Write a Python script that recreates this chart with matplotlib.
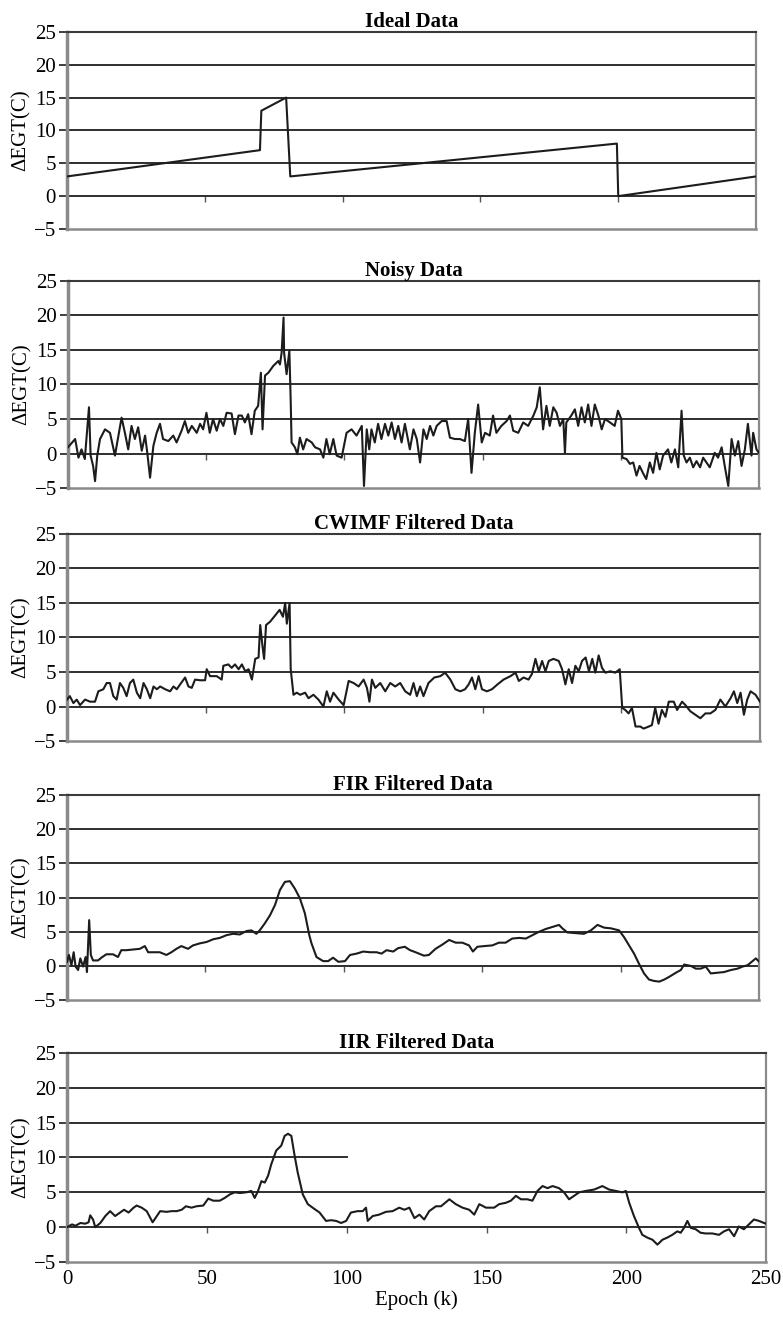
import matplotlib.pyplot as plt

plt.rcParams["font.family"] = ["Liberation Serif", "DejaVu Serif"]

Y_TICKS = [-5, 0, 5, 10, 15, 20, 25]
X_TICKS = [0, 50, 100, 150, 200, 250]

TITLES = ["Ideal Data", "Noisy Data", "CWIMF Filtered Data",
          "FIR Filtered Data", "IIR Filtered Data"]

# ideal data: ramps with two jumps
IDEAL_K = [0, 70, 70.5, 79.5, 81, 199.5, 200, 250]
IDEAL_V = [3, 7, 13, 15, 3, 8, 0, 3]

NOISY_K = [0, 2.6, 3.8, 4.9, 6.1, 7.6, 8.2, 9.1, 9.8, 10.6, 11.6, 13.4, 15.2, 17.0,
           19.4, 20.6, 21.8, 23.0, 24.2, 25.4, 26.7, 27.9, 28.7, 29.7, 30.9, 32.1,
           33.3, 34.4, 36.3, 38.1, 39.3, 41.1, 42.3, 43.5, 44.8, 46.6, 47.8, 48.9,
           50.1, 51.3, 52.5, 53.8, 55.0, 56.2, 57.4, 59.2, 60.4, 61.7, 62.9, 64.0,
           65.2, 66.4, 67.6, 68.8, 69.8, 70.4, 71.3, 72.5, 74.3, 76.1, 76.7, 77.3,
           78.0, 78.2, 79.1, 80.1, 80.6, 80.9, 82.1, 83.0, 83.9, 85.1, 86.3, 88.2,
           89.4, 91.2, 92.4, 93.5, 94.7, 96.0, 97.2, 99.0, 100.8, 102.6, 104.4,
           106.3, 107.1, 108.1, 109.0, 109.8, 111.0, 112.2, 113.4, 114.7, 115.9,
           117.1, 118.3, 119.5, 120.7, 121.9, 123.7, 125.0, 126.2, 127.4, 128.6,
           129.8, 131.0, 132.2, 133.4, 135.2, 137.0, 138.2, 140.0, 141.8, 143.6,
           144.8, 146.0, 147.2, 148.4, 149.7, 150.9, 152.6, 153.8, 155.0, 156.8,
           158.7, 159.9, 161.1, 162.9, 164.7, 166.5, 168.4, 169.6, 170.7, 171.9,
           173.1, 174.3, 175.6, 176.8, 178.0, 179.2, 179.8, 180.3, 182.1, 183.4,
           184.6, 185.8, 187.0, 188.2, 189.4, 190.6, 191.9, 193.1, 194.3, 196.1,
           197.8, 199.0, 200.2, 200.6, 202.1, 203.3, 204.5, 205.7, 206.8, 208.0,
           209.2, 210.5, 211.7, 212.9, 214.1, 215.3, 217.1, 218.3, 219.6, 220.8,
           222.0, 222.8, 223.8, 225.0, 226.2, 227.4, 228.7, 229.8, 231.0, 232.2,
           234.0, 235.2, 236.5, 237.7, 238.9, 240.1, 241.3, 242.5, 243.7, 244.9,
           246.0, 247.3, 247.9, 249.1, 250]
NOISY_V = [0.9, 2.1, -0.6, 0.6, -0.8, 6.7, -0.3, -1.8, -4.0, -0.3, 2.1, 3.5, 3.0, -0.3,
           5.2, 3.0, 0.6, 4.0, 2.1, 3.8, 0.4, 2.6, 0.1, -3.5, 1.1, 3.0,
           4.3, 2.1, 1.8, 2.6, 1.6, 3.3, 4.7, 3.0, 4.0, 3.0, 4.3, 3.5,
           5.9, 3.0, 5.0, 3.3, 5.0, 4.0, 5.9, 5.8, 2.8, 5.5, 5.5, 4.5,
           5.7, 2.8, 6.2, 6.9, 11.7, 3.5, 11.3, 11.7, 12.7, 13.4, 12.9, 14.6,
           19.7, 14.6, 11.5, 14.9, 7.4, 1.6, 0.9, -0.1, 2.3, 0.6, 2.1, 1.6,
           0.9, 0.6, -0.6, 2.1, -0.1, 2.1, -0.3, -0.6, 3.0, 3.5, 2.6,
           4.0, -4.7, 3.5, 0.6, 3.5, 1.6, 4.3, 2.1, 4.3, 2.6,
           4.5, 2.1, 4.0, 1.6, 4.3, 0.6, 3.5, 2.1, -1.3, 3.5,
           2.1, 4.0, 2.6, 4.0, 4.7, 4.7, 2.3, 2.1, 2.1, 1.8,
           5.0, -2.8, 3.0, 7.1, 1.6, 3.0, 2.6, 5.5, 3.0, 4.0,
           4.7, 5.5, 3.3, 3.0, 4.5, 4.0, 5.5, 6.7, 9.6, 3.5,
           6.9, 4.0, 6.7, 5.9, 4.0, 5.0, 0.1, 4.5, 5.5, 6.4,
           4.0, 6.7, 4.5, 7.1, 4.0, 7.1, 5.5, 3.5, 5.0, 4.5,
           4.0, 6.2, 5.0, -0.6, -0.8, -1.5, -1.3, -3.2, -1.8, -2.8,
           -3.7, -1.3, -2.8, 0.1, -2.3, -0.3, 0.6, -1.3, 0.6, -2.0,
           6.2, -0.3, -1.3, -0.6, -2.0, -1.1, -2.0, -0.6, -1.3, -2.0,
           0.1, -0.6, 0.9, -2.0, -4.7, 2.1, -0.3, 1.8, -1.8, 0.6,
           4.3, -0.3, 3.0, 0.6, 0.1]

CWIMF_K = [0, 1.0, 2.3, 3.5, 4.7, 6.5, 8.3, 10.1, 11.3, 13.1, 14.3, 15.5, 16.7, 17.9,
           19.1, 20.3, 21.5, 22.7, 23.9, 25.2, 26.4, 27.6, 28.8, 30.0, 31.2, 32.4,
           33.6, 35.4, 37.2, 38.4, 39.6, 40.8, 42.6, 43.8, 45.0, 46.2, 48.0, 49.8,
           50.4, 51.6, 54.0, 55.8, 56.4, 58.2, 59.4, 60.6, 61.9, 63.1, 64.3, 65.5,
           66.7, 67.9, 69.1, 69.7, 70.5, 71.1, 71.8, 73.3, 75.1, 76.7, 77.9, 78.7,
           79.3, 80.3, 80.7, 81.7, 82.9, 84.1, 85.9, 87.1, 88.9, 90.7, 92.5, 93.7,
           94.9, 96.1, 98.0, 99.8, 101.6, 103.4, 105.2, 107.0, 108.2, 109.1, 110.0,
           111.2, 113.0, 114.8, 116.6, 118.4, 120.2, 122.0, 123.8, 125.0, 126.2,
           127.4, 128.6, 130.4, 132.5, 134.7, 136.4, 138.3, 140.1, 141.9, 143.6,
           144.9, 146.1, 147.3, 148.5, 149.7, 151.5, 153.3, 155.3, 157.5, 160.0,
           161.8, 163.0, 164.7, 166.5, 167.7, 169.0, 170.2, 171.4, 172.6, 173.8,
           175.5, 177.4, 178.6, 179.8, 181.0, 182.2, 183.4, 184.6, 185.8, 187.1,
           188.3, 189.5, 190.6, 191.8, 193.0, 194.2, 196.0, 197.8, 199.4, 200.3,
           201.4, 202.6, 203.8, 205.1, 206.8, 208.0, 209.9, 211.0, 212.2, 213.4,
           214.6, 215.9, 217.1, 218.9, 220.1, 221.9, 223.1, 224.9, 226.7, 228.5,
           230.3, 232.1, 233.9, 235.7, 237.5, 239.4, 240.6, 241.8, 243.0, 244.2,
           245.4, 246.6, 248.4, 250]
CWIMF_V = [1.0, 1.5, 0.5, 1.0, 0.2, 1.0, 0.7, 0.7, 2.2, 2.5, 3.4, 3.4, 1.5, 1.0,
           3.4, 2.7, 1.5, 3.4, 3.9, 2.0, 1.2, 3.4, 2.5, 1.2, 2.9, 2.5,
           2.9, 2.5, 2.2, 2.9, 2.5, 3.2, 4.2, 2.9, 2.7, 3.9, 3.8, 3.8,
           5.4, 4.4, 4.4, 3.9, 5.9, 6.1, 5.6, 6.1, 5.4, 6.1, 5.1, 5.4,
           3.9, 6.9, 7.1, 11.8, 8.8, 6.9, 11.8, 12.3, 13.2, 14.0, 13.0, 15.0,
           12.0, 15.0, 5.4, 1.7, 2.0, 1.7, 2.0, 1.2, 1.7, 1.0, 0.0, 2.2,
           0.7, 2.0, 1.0, 0.2, 3.7, 3.4, 2.9, 3.9, 2.7, 0.7, 3.9,
           2.7, 3.4, 2.2, 3.4, 2.9, 3.4, 2.2, 1.7, 3.4, 1.5,
           2.9, 1.5, 3.4, 4.2, 4.4, 4.9, 3.9, 2.5, 2.2, 2.5,
           3.2, 4.2, 2.5, 4.4, 2.5, 2.2, 2.5, 3.2, 3.9, 4.4,
           4.9, 3.7, 4.2, 3.9, 4.7, 6.9, 5.1, 6.6, 5.1, 6.6,
           6.9, 6.6, 5.4, 3.2, 5.4, 3.4, 5.9, 5.1, 6.6, 7.1,
           5.1, 6.9, 4.9, 7.4, 5.6, 4.9, 5.1, 4.9, 5.4, -0.2,
           -0.5, -1.0, -0.2, -2.9, -2.9, -3.2, -2.9, -2.7, -0.2, -2.5,
           -0.5, -1.5, 0.7, 0.7, -0.5, 0.7, 0.2, -0.7, -1.2, -1.7,
           -1.0, -1.0, -0.5, 1.0, 0.0, 1.2, 2.2, 0.5, 2.0, -1.2,
           1.0, 2.2, 1.7, 0.7]

FIR_K = [0, 0.7, 1.6, 2.4, 3.1, 4.0, 4.8, 5.8, 6.7, 7.2, 8.0, 8.6, 9.4, 11.2, 12.4,
         14.2, 16.6, 18.4, 19.6, 21.4, 23.9, 26.3, 28.1, 29.3, 31.7, 33.5, 35.9,
         37.7, 39.5, 41.3, 43.7, 45.5, 48.0, 50.4, 52.8, 55.2, 57.6, 60.0, 62.4,
         64.8, 66.6, 68.4, 69.6, 71.4, 73.3, 75.1, 76.9, 78.7, 80.5, 82.3, 84.1,
         85.9, 87.5, 88.3, 90.1, 92.5, 94.3, 96.1, 98.0, 100.4, 102.2, 104.6,
         107.0, 109.4, 111.8, 113.6, 115.4, 117.8, 119.6, 122.0, 123.9, 125.9,
         128.9, 130.7, 133.1, 135.5, 138.0, 140.4, 142.8, 145.2, 146.6, 148.2,
         150.6, 153.6, 156.0, 158.4, 160.8, 163.3, 165.7, 168.1, 170.5, 172.9,
         175.3, 177.7, 178.9, 180.7, 183.7, 186.7, 189.2, 191.6, 194.0, 196.4,
         199.4, 201.2, 203.0, 204.8, 206.6, 208.4, 210.2, 212.0, 213.9, 215.7,
         217.5, 219.9, 221.7, 222.9, 225.3, 227.1, 228.9, 230.7, 232.5, 234.9,
         237.3, 239.8, 242.2, 244.0, 245.8, 247.6, 248.8, 250]
FIR_V = [0.6, 1.6, 0.1, 2.0, -0.1, -0.6, 1.1, -0.1, 1.3, -0.9, 6.7, 1.6, 0.8, 0.8, 1.2,
         1.7, 1.7, 1.3, 2.3, 2.3, 2.4, 2.5, 2.9, 2.0, 2.0, 2.0, 1.6,
         2.0, 2.5, 2.9, 2.5, 3.0, 3.3, 3.5, 3.9, 4.1, 4.5, 4.7, 4.6,
         5.1, 5.2, 4.7, 5.2, 6.2, 7.4, 8.9, 11.1, 12.3, 12.4, 11.3, 9.9,
         7.7, 4.5, 3.3, 1.3, 0.7, 0.7, 1.2, 0.6, 0.7, 1.6, 1.8,
         2.1, 2.0, 2.0, 1.8, 2.3, 2.1, 2.6, 2.8, 2.3, 2.0,
         1.5, 1.6, 2.5, 3.1, 3.8, 3.4, 3.4, 3.0, 2.1, 2.8,
         2.9, 3.0, 3.4, 3.4, 4.0, 4.1, 4.0, 4.5, 5.0, 5.4,
         5.7, 6.0, 5.5, 4.9, 4.8, 4.7, 5.2, 6.0, 5.6, 5.5,
         5.2, 4.2, 3.0, 1.8, 0.3, -1.1, -2.0, -2.2, -2.3, -2.0,
         -1.6, -1.0, -0.6, 0.2, 0.0, -0.4, -0.4, -0.1, -1.1, -1.0,
         -0.9, -0.6, -0.4, -0.1, 0.1, 0.7, 1.1, 0.6]

IIR_K = [0, 1.8, 3.0, 4.8, 6.5, 7.7, 8.3, 9.3, 10.1, 11.9, 13.7, 15.4, 17.2, 19.0,
         20.4, 22.0, 23.8, 24.9, 26.7, 28.5, 30.6, 32.1, 33.3, 35.6, 37.4, 39.2,
         41.0, 42.5, 44.5, 46.3, 48.7, 50.5, 52.3, 54.6, 56.4, 58.2, 60.0, 61.8,
         64.1, 65.9, 67.1, 68.3, 69.5, 70.7, 71.9, 73.0, 74.8, 76.6, 77.8, 79.0,
         80.2, 81.4, 82.5, 84.3, 86.1, 88.5, 90.3, 92.6, 94.4, 96.2, 98.0, 99.8,
         101.5, 103.9, 105.7, 106.9, 107.5, 109.3, 111.6, 114.0, 116.4, 118.8,
         120.6, 122.4, 124.2, 126.0, 127.7, 129.5, 131.9, 133.7, 136.7, 139.0,
         141.4, 143.8, 145.6, 147.4, 149.8, 152.7, 154.5, 156.9, 158.7, 160.5,
         162.3, 164.6, 166.4, 168.2, 170.0, 171.8, 173.6, 175.9, 177.7, 179.5,
         181.3, 183.1, 185.5, 188.5, 191.4, 193.8, 196.2, 198.6, 199.8, 201.0,
         202.7, 204.5, 205.7, 207.5, 209.3, 211.1, 212.9, 214.6, 216.4, 218.2,
         219.4, 220.6, 221.8, 223.0, 224.8, 226.5, 228.3, 230.7, 233.1, 234.9,
         236.7, 238.5, 240.2, 242.0, 243.8, 245.6, 247.4, 249.2, 250]
IIR_V = [0.0, 0.4, 0.2, 0.6, 0.5, 0.7, 1.7, 1.1, 0.0, 0.6, 1.6, 2.3, 1.6, 2.1,
         2.5, 2.1, 2.8, 3.1, 2.8, 2.3, 0.7, 1.6, 2.3, 2.2, 2.3, 2.3,
         2.5, 3.0, 2.8, 3.0, 3.1, 4.1, 3.8, 3.8, 4.2, 4.7, 5.0, 4.9,
         5.0, 5.2, 4.2, 5.2, 6.6, 6.4, 7.4, 9.0, 11.0, 11.7, 13.1, 13.4,
         13.1, 10.2, 7.8, 4.7, 3.3, 2.6, 2.1, 0.9, 1.0, 0.9, 0.6, 0.9,
         2.1, 2.3, 2.3, 2.8, 0.9, 1.6, 1.8, 2.2, 2.3, 2.8,
         2.5, 2.8, 1.3, 1.8, 1.1, 2.3, 3.0, 3.0, 4.0, 3.3,
         2.8, 2.5, 1.8, 3.3, 2.8, 2.8, 3.3, 3.5, 3.8, 4.5,
         4.0, 4.0, 3.8, 5.2, 5.9, 5.6, 5.9, 5.6, 5.0, 4.0,
         4.5, 5.0, 5.2, 5.4, 5.9, 5.4, 5.2, 5.0, 5.2, 3.5,
         1.6, -0.1, -1.1, -1.5, -1.8, -2.5, -1.8, -1.5, -1.1, -0.6,
         -0.8, -0.1, 0.9, -0.1, -0.3, -0.8, -0.9, -0.9, -1.1, -0.6,
         -0.3, -1.3, 0.1, -0.3, 0.4, 1.1, 0.9, 0.6, 0.5]

SERIES = [(IDEAL_K, IDEAL_V), (NOISY_K, NOISY_V), (CWIMF_K, CWIMF_V),
          (FIR_K, FIR_V), (IIR_K, IIR_V)]

# axes boxes in figure fractions [left, bottom, width, height]
RECTS = [[0.0856, 0.8264, 0.880, 0.1494],
         [0.0868, 0.6300, 0.8825, 0.1570],
         [0.0856, 0.4382, 0.8850, 0.1570],
         [0.0856, 0.2418, 0.8840, 0.1554],
         [0.0856, 0.0432, 0.8930, 0.1585]]

fig = plt.figure(figsize=(7.83, 13.19), dpi=100)

for i, (title, (k, v), rect) in enumerate(zip(TITLES, SERIES, RECTS)):
    ax = fig.add_axes(rect)
    ax.set_xlim(0, 250)
    ax.set_ylim(-5, 25)

    # gridlines (the 10 line of the last panel stops at k=100 in the original)
    for y in Y_TICKS[1:-1]:
        xmax = 0.4 if (i == 4 and y == 10) else 1.0
        ax.axhline(y, xmax=xmax, color="#2e2e2e", lw=1.4, zorder=1)

    ax.plot(k, v, color="#1c1c1c", lw=1.5, zorder=3)

    ax.set_yticks(Y_TICKS)
    ax.set_xticks(X_TICKS)
    ax.tick_params(axis="y", direction="out", length=6, width=1.3,
                   color="#2e2e2e", labelsize=15, pad=2)
    ax.tick_params(axis="x", length=0, labelsize=15, pad=6)

    for side in ["left", "right", "bottom"]:
        ax.spines[side].set_color("#8a8a8a")
    ax.spines["left"].set_linewidth(2.5)
    ax.spines["right"].set_linewidth(1.6)
    ax.spines["bottom"].set_linewidth(1.8)
    ax.spines["top"].set_color("#3a3a3a")
    ax.spines["top"].set_linewidth(1.5)

    # small x ticks sitting on the zero line
    sec = ax.secondary_xaxis(1 / 6)
    sec.set_xticks(X_TICKS[1:-1])
    sec.tick_params(direction="out", length=4, width=1, color="#555555",
                    labelbottom=False)
    sec.spines["bottom"].set_visible(False)

    ax.set_title(title, fontweight="bold", fontsize=15, pad=3)
    ax.set_ylabel("ΔEGT(C)", fontsize=15, labelpad=2)

    if i < 4:
        ax.set_xticklabels([])
    else:
        ax.set_xlabel("Epoch (k)", fontsize=15, labelpad=1)

fig.savefig("out.png", dpi=100)
